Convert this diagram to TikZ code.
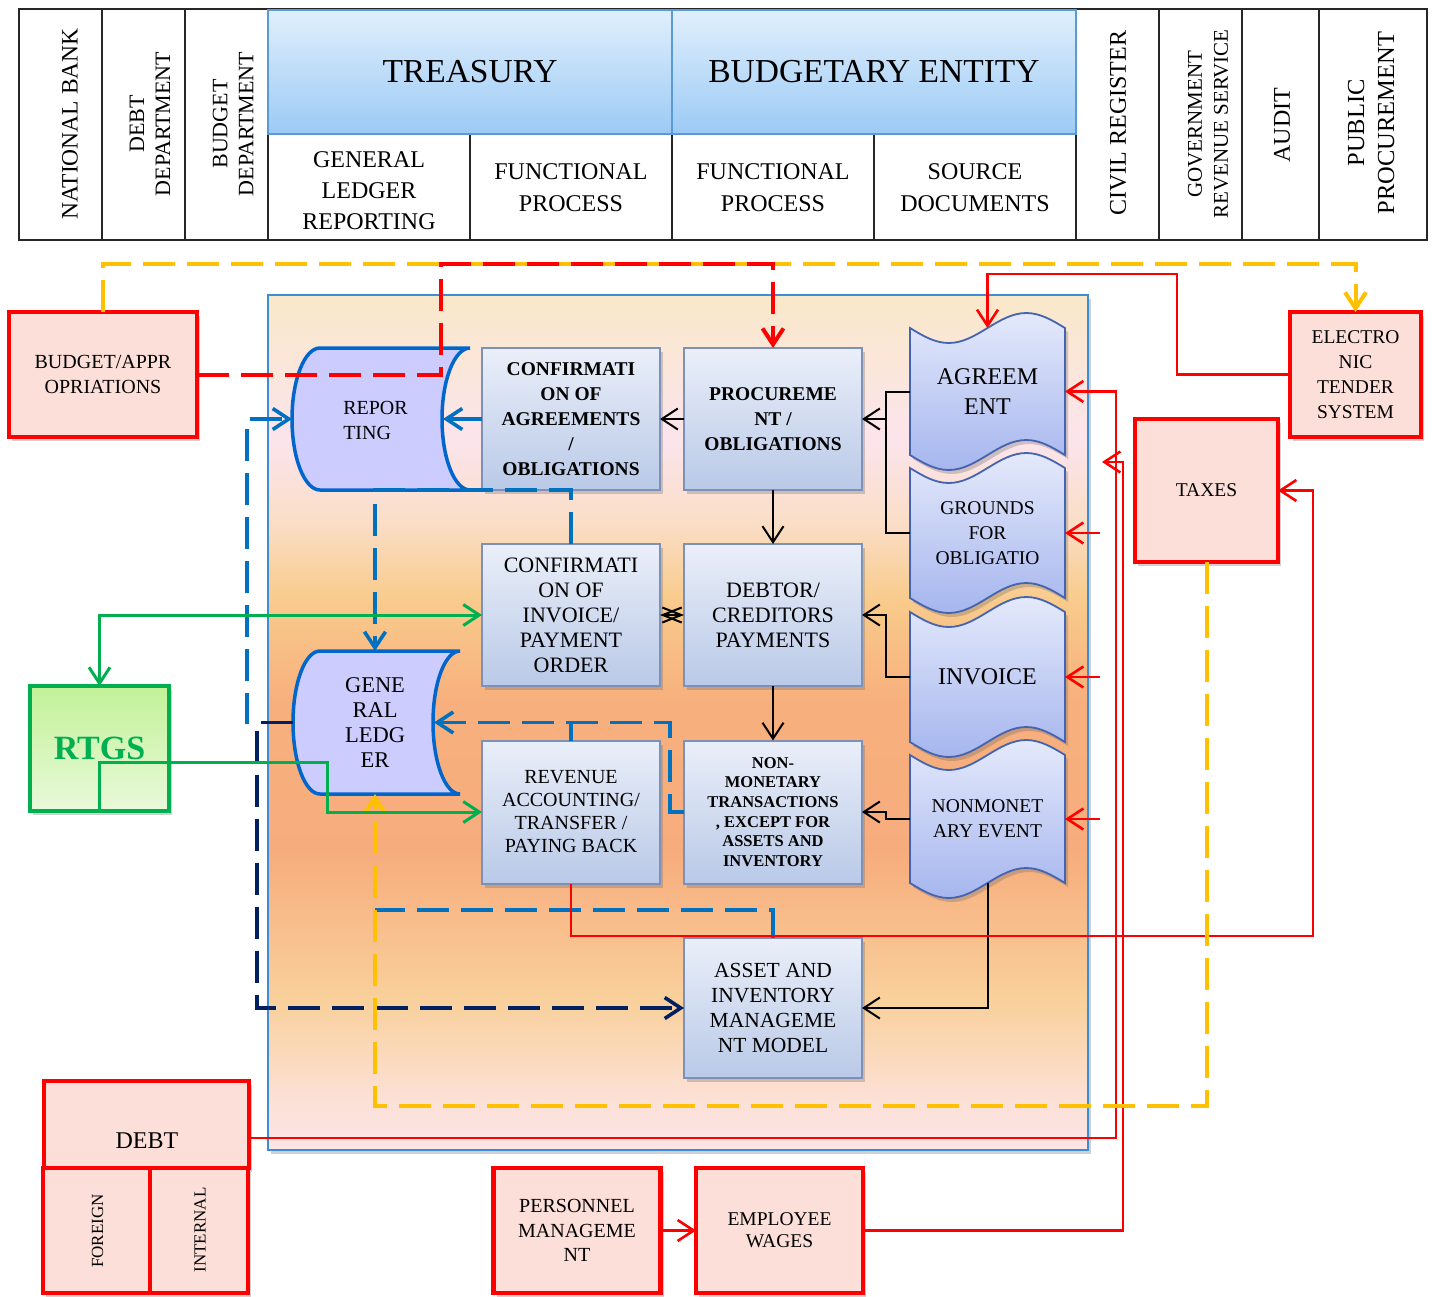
\documentclass[tikz,border=0pt]{standalone}
\usepackage{fontspec}
\setmainfont{Liberation Serif}
\usetikzlibrary{arrows.meta,shadows}

% palette
\definecolor{hdtop}{RGB}{224,239,252}
\definecolor{hdbot}{RGB}{156,202,245}
\definecolor{hdline}{RGB}{91,155,213}
\definecolor{redfill}{RGB}{252,223,216}
\definecolor{ptop}{RGB}{234,239,249}
\definecolor{pbot}{RGB}{185,201,231}
\definecolor{pline}{RGB}{124,144,184}
\definecolor{dtop}{RGB}{228,233,251}
\definecolor{dbot}{RGB}{166,182,238}
\definecolor{dline}{RGB}{68,100,178}
\definecolor{stfill}{RGB}{204,204,255}
\definecolor{stline}{RGB}{0,102,204}
\definecolor{dblue}{RGB}{0,112,192}
\definecolor{navy}{RGB}{0,32,96}
\definecolor{amber}{RGB}{255,192,0}
\definecolor{rgreen}{RGB}{0,176,80}
\definecolor{gtop}{RGB}{194,242,152}
\definecolor{gbot}{RGB}{233,249,218}
\definecolor{panelline}{RGB}{60,140,215}

% background of the central panel, bottom (25bp) to top (75bp)
\pgfdeclareverticalshading{panelshade}{100bp}{%
  rgb(0bp)=(0.992,0.894,0.902);
  rgb(25bp)=(0.992,0.894,0.902);
  rgb(27.9bp)=(0.988,0.882,0.843);
  rgb(33.8bp)=(0.976,0.816,0.608);
  rgb(42.5bp)=(0.969,0.675,0.490);
  rgb(51.3bp)=(0.969,0.690,0.490);
  rgb(57.2bp)=(0.976,0.796,0.549);
  rgb(61.8bp)=(0.980,0.871,0.784);
  rgb(66.5bp)=(0.988,0.894,0.925);
  rgb(75bp)=(0.980,0.910,0.792);
  rgb(100bp)=(0.980,0.910,0.792)}

\newcommand\fnt[2]{\fontsize{#1}{#2}\selectfont}
% punched-tape document: top edge y, bottom edge y
\newcommand\tapeshape[2]{\path[docsty] (910,#1) sin (948.75,{#1+15}) cos (987.5,#1) sin (1026.25,{#1-15}) cos (1065,#1) -- (1065,#2) sin (1026.25,{#2-15}) cos (987.5,#2) sin (948.75,{#2+15}) cos (910,#2) -- cycle;}

\begin{document}
\begin{tikzpicture}[x=1pt,y=-1pt,
  >={Straight Barb[length=16pt,width=21pt]},
  base/.style={inner sep=0pt,outer sep=0pt,align=center,text=black},
  txt/.style={base},
  hline/.style={draw=black!85,line width=1.3pt},
  bluehead/.style={base,draw=hdline,line width=1.6pt,top color=hdtop,bottom color=hdbot},
  shd/.style={drop shadow={shadow xshift=3pt,shadow yshift=-4pt,opacity=0.3,fill=black!60}},
  redbox/.style={base,draw=red,line width=4.5pt,fill=redfill,shd},
  pbox/.style={base,draw=pline,line width=2pt,top color=ptop,bottom color=pbot,shd,minimum width=178pt,minimum height=142pt},
  docsty/.style={draw=dline,line width=1.8pt,top color=dtop,bottom color=dbot,shd},
  docnode/.style={base,minimum width=155pt},
  ststy/.style={draw=stline,line width=3.5pt,fill=stfill},
  blk/.style={draw=black,line width=2pt},
  rd/.style={draw=red,line width=2.6pt},
  rdash/.style={draw=red,line width=4pt,dash pattern=on 32pt off 12pt},
  yel/.style={draw=amber,line width=4pt,dash pattern=on 32pt off 12pt},
  bdash/.style={draw=dblue,line width=3.6pt,dash pattern=on 32pt off 12pt},
  bsolid/.style={draw=dblue,line width=3.6pt},
  ndash/.style={draw=navy,line width=3.6pt,dash pattern=on 32pt off 12pt},
  grn/.style={draw=rgreen,line width=3pt},
  xtip/.style={{Straight Barb[length=19pt,width=15pt]}-{Straight Barb[length=19pt,width=15pt]}},
]
\fill[white] (0,0) rectangle (1432,1296);
\useasboundingbox (0,0) rectangle (1432,1296);

% ---------------- header table ----------------
\draw[hline] (19,9) rectangle (1427,240);
\foreach \xx in {102,185,268,1076,1159,1242,1319} \draw[hline] (\xx,9) -- (\xx,240);
\foreach \xx in {470,672,874} \draw[hline] (\xx,133) -- (\xx,240);
\draw[hline] (268,133) -- (1076,133);
\node[bluehead,minimum width=404pt,minimum height=124pt,font={\fnt{33.5}{38}}] (treas) at (470,72) {TREASURY};
\node[bluehead,minimum width=404pt,minimum height=124pt,font={\fnt{33.5}{38}}] (budent) at (874,72) {BUDGETARY ENTITY};

\node[txt,rotate=90,font={\fnt{23.5}{27}}] (nbank) at (70,124) {NATIONAL BANK};
\node[txt,rotate=90,font={\fnt{22}{26}}] (debtdep) at (150,124) {DEBT\\DEPARTMENT};
\node[txt,rotate=90,font={\fnt{22}{26}}] (buddep) at (233,124) {BUDGET\\DEPARTMENT};
\node[txt,rotate=90,font={\fnt{24}{28}}] (civil) at (1118,123) {CIVIL REGISTER};
\node[txt,rotate=90,font={\fnt{21}{26}}] (grs) at (1208,124) {GOVERNMENT\\REVENUE SERVICE};
\node[txt,rotate=90,font={\fnt{24}{28}}] (audit) at (1282,125) {AUDIT};
\node[txt,rotate=90,font={\fnt{24.5}{30}}] (pubproc) at (1371,123) {PUBLIC\\PROCUREMENT};

\node[txt,font={\fnt{24}{31}}] (glrep) at (369,191) {GENERAL\\LEDGER\\REPORTING};
\node[txt,font={\fnt{24}{32}}] (fp1) at (571,188) {FUNCTIONAL\\PROCESS};
\node[txt,font={\fnt{24}{32}}] (fp2) at (773,188) {FUNCTIONAL\\PROCESS};
\node[txt,font={\fnt{24}{32}}] (srcdoc) at (975,188) {SOURCE\\DOCUMENTS};

% ---------------- central panel ----------------
\node[base,draw=panelline,line width=1.8pt,shading=panelshade,shd,minimum width=820pt,minimum height=855pt] (panel) at (678,722.5) {};

% stored-data shapes
\path[ststy] (320,348) -- (470,348) .. controls (454.5,348) and (442,379.8) .. (442,419) .. controls (442,458.2) and (454.5,490) .. (470,490) -- (320,490) .. controls (304.5,490) and (292,458.2) .. (292,419) .. controls (292,379.8) and (304.5,348) .. (320,348) -- cycle;
\node[base,minimum width=178pt,minimum height=142pt] (rep) at (381,419) {};
\node[txt,align=left,font={\fnt{20}{25}}] (rep-t) at (375.5,420) {REPOR\\TING};
\coordinate (repin) at (443,419);

\path[ststy] (320,651) -- (460,651) .. controls (445.1,651) and (433,683) .. (433,722.5) .. controls (433,762) and (445.1,794) .. (460,794) -- (320,794) .. controls (305.1,794) and (293,762) .. (293,722.5) .. controls (293,683) and (305.1,651) .. (320,651) -- cycle;
\node[base,minimum width=164pt,minimum height=143pt,font={\fnt{22.5}{25}}] (gl) at (375,722.5) {GENE\\RAL\\LEDG\\ER};
\coordinate (glin) at (434,722.5);

% process boxes
\node[pbox,font={\fnt{19.5}{25}\bfseries}] (confagr) at (571,419) {CONFIRMATI\\ON OF\\AGREEMENTS\\/\\OBLIGATIONS};
\node[pbox,font={\fnt{19.5}{25}\bfseries}] (proc) at (773,419) {PROCUREME\\NT /\\OBLIGATIONS};
\node[pbox,font={\fnt{22}{25}}] (confinv) at (571,615) {CONFIRMATI\\ON OF\\INVOICE/\\PAYMENT\\ORDER};
\node[pbox,font={\fnt{22}{25}}] (debtor) at (773,615) {DEBTOR/\\CREDITORS\\PAYMENTS};
\node[pbox,minimum height=143pt,font={\fnt{20}{23}}] (revenue) at (571,812) {REVENUE\\ACCOUNTING/\\TRANSFER /\\PAYING BACK};
\node[pbox,minimum height=143pt,font={\fnt{16.5}{19.6}\bfseries}] (nonmon) at (773,812) {NON-\\MONETARY\\TRANSACTIONS\\, EXCEPT FOR\\ASSETS AND\\INVENTORY};
\node[pbox,minimum height=140pt,font={\fnt{21.5}{25.3}}] (asset) at (773,1008) {ASSET AND\\INVENTORY\\MANAGEME\\NT MODEL};

% source documents
\tapeshape{328}{455}
\node[docnode,minimum height=127pt,font={\fnt{24}{30}}] (agree) at (987.5,391.5) {AGREEM\\ENT};
\tapeshape{468}{598}
\node[docnode,minimum height=130pt,font={\fnt{19.5}{25}}] (grounds) at (987.5,533) {GROUNDS\\FOR\\OBLIGATIO};
\tapeshape{612}{742}
\node[docnode,minimum height=130pt,font={\fnt{24}{29}}] (invoice) at (987.5,677) {INVOICE};
\tapeshape{755}{883}
\node[docnode,minimum height=128pt,font={\fnt{19.5}{25}}] (nonmonev) at (987.5,819) {NONMONET\\ARY EVENT};

% ---------------- outside systems ----------------
\node[redbox,minimum width=188pt,minimum height=125pt,font={\fnt{20}{25}}] (budg) at (103,374.5) {BUDGET/APPR\\OPRIATIONS};
\node[redbox,minimum width=131pt,minimum height=125pt,font={\fnt{19.5}{25}}] (etender) at (1355.5,374.5) {ELECTRO\\NIC\\TENDER\\SYSTEM};
\node[redbox,minimum width=143pt,minimum height=143pt,font={\fnt{19.5}{24}}] (taxes) at (1206.5,490.5) {TAXES};

\node[redbox,minimum width=205pt,minimum height=87pt] (debt) at (146.5,1124.5) {};
\node[txt,font={\fnt{24}{28}}] (debt-t) at (147,1141) {DEBT};
\node[redbox,minimum width=107pt,minimum height=125pt] (foreign) at (96.5,1230.5) {};
\node[redbox,minimum width=98pt,minimum height=125pt] (internal) at (199,1230.5) {};
\node[txt,rotate=90,font={\fnt{17}{20}}] (foreign-t) at (97.5,1231) {FOREIGN};
\node[txt,rotate=90,font={\fnt{17}{20}}] (internal-t) at (200,1230) {INTERNAL};

\node[redbox,minimum width=167pt,minimum height=125pt,font={\fnt{20}{24.5}}] (persmgmt) at (577,1230.5) {PERSONNEL\\MANAGEME\\NT};
\node[redbox,minimum width=167pt,minimum height=125pt,font={\fnt{19.5}{22}}] (wages) at (779.5,1230.5) {EMPLOYEE\\WAGES};

\node[base,draw=rgreen,line width=4.5pt,top color=gtop,bottom color=gbot,shd,minimum width=139pt,minimum height=125pt,font={\fnt{34}{38}\bfseries},text=rgreen] (rtgs) at (99.5,748.5) {RTGS};

% ---------------- connectors ----------------
% budget flows along the top
\draw[yel,->] (budg.north) |- (etender.north |- 0,264) -- (etender.north);
\draw[rdash,->] (budg.east) -| (441,264) -| (proc.north);

% black process flow
\draw[blk] (agree.west) -- ++(-24,0) coordinate (bkA) |- (grounds.west);
\draw[blk,->] (bkA |- proc.east) -- (proc.east);
\draw[blk,->] (proc.west) -- (confagr.east);
\draw[blk,->] (proc.south) -- (debtor.north);
\draw[blk,->] (invoice.west) -- (bkA |- invoice.west) -- (bkA |- debtor.east) -- (debtor.east);
\draw[blk,xtip] (confinv.east) -- (debtor.west);
\draw[blk,->] (debtor.south) -- (nonmon.north);
\draw[blk,->] (nonmonev.west) -- (bkA |- nonmonev.west) -- (bkA |- nonmon.east) -- (nonmon.east);
\draw[blk,->] (nonmonev.south) |- (asset.east);

% blue ledger links
\draw[bdash,->] (gl.west) -- (247,722.5) |- (rep.west);
\draw[ndash,->] (gl.west) -- (257,722.5) |- (asset.west);
\draw[bsolid,->] (confagr.west) -- (repin);
\draw[bdash,->] (confinv.north) |- (gl.north |- 0,490) -- (gl.north);
\draw[bdash,->] (nonmon.west) -| (670,722.5) -- (glin);
\draw[bsolid] (revenue.north) -- (revenue.north |- glin);
\draw[bdash] (asset.north) |- (gl.south |- 0,910);

% red external feeds
\coordinate (srcG) at (1100,533);
\coordinate (srcI) at (1100,677);
\coordinate (srcN) at (1100,819);
\coordinate (wagesend) at (1102,462);
\draw[rd,->] (etender.west) -| (1177,274) -| (agree.north);
\draw[rd,->] (debt.east |- 0,1138) -| (1116,391.5) -- (agree.east);
\draw[rd,->] (wages.east) -| (1123,462) -- (wagesend);
\draw[rd,->] (srcG) -- (grounds.east);
\draw[rd,->] (srcI) -- (invoice.east);
\draw[rd,->] (srcN) -- (nonmonev.east);
\draw[rd,->] (revenue.south) |- (1313,936) |- (taxes.east);
\draw[rd,->] (persmgmt.east) -- (wages.west);

% taxes to ledger
\draw[yel,->] (taxes.south) |- (gl.south |- 0,1106) -- (gl.south);

% RTGS payments
\draw[grn,<->] (rtgs.north) |- (confinv.west);
\draw[grn,->] (rtgs.south) |- (327,762) |- (revenue.west);
\end{tikzpicture}
\end{document}
